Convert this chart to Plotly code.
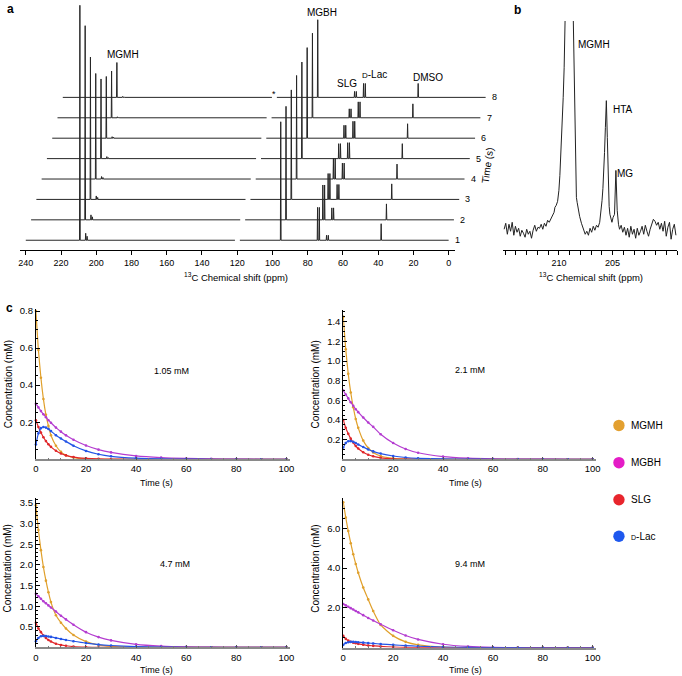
import plotly.graph_objects as go

W, H = 682, 676
def px(x):
    return x / W
def py(y):
    return 1 - y / H

FONT = "Liberation Sans, Arial, Helvetica, sans-serif"

# ---------------- Panel a : stacked 13C spectra (peak list per time point) ----------------
trace_ids = [1, 2, 3, 4, 5, 6, 7, 8]
peak_shift = [209.3, 206.0, 205.2, 95.3, 74.4, 73.4, 69.3, 68.3, 38.3]   # ppm (trace 1)
h_MGMH = [236, 195, 143, 106, 80, 62, 47, 35]
h_HTA = [7, 5, 3.5, 2.5, 2, 1.5, 1, 1]
h_MG = [4, 3, 2, 1.5, 1, 1, 0.5, 0.5]
h_MGBH = [119, 114, 110, 104, 97, 91, 85, 78]
h_SLG = [33, 35, 26, 21, 15, 13, 9, 6]
h_DLac = [5, 12, 15, 16, 16, 17, 16, 14]
h_DMSO = [16.6, 16, 15.6, 15, 15, 14.5, 14, 14]
spec_start, spec_end = 240.0, 0.0
gap_start, gap_end = 121.3, 118.5

# ---------------- Panel b : zoom of carbonyl region ----------------
b_points = [
    (215.1, 3), (214.95, 9), (214.8, -2), (214.65, 8), (214.5, 1), (214.35, 10), (214.2, -3),
    (214.05, 6), (213.9, 0), (213.75, 4), (213.6, -4), (213.45, 2), (213.3, -1), (213.15, -5),
    (213.0, 3), (212.85, -2), (212.7, 1), (212.55, -6), (212.4, 2), (212.25, 7), (212.1, 1),
    (211.95, 5), (211.8, 4), (211.65, 8), (211.5, 3), (211.35, 9), (211.2, 6), (211.05, 12),
    (210.9, 10), (210.75, 14), (210.6, 16), (210.45, 20), (210.37, 25), (210.25, 27), (210.12, 31),
    (210.0, 42), (209.91, 57), (209.8, 80), (209.69, 105), (209.6, 135), (209.51, 165),
    (209.42, 210), (209.3, 300), (209.05, 420), (208.8, 300), (208.65, 215), (208.56, 140),
    (208.45, 75), (208.37, 35), (208.3, 30), (208.2, 22), (208.07, 16), (207.9, 9), (207.7, 3),
    (207.55, -2), (207.4, 1), (207.25, -3), (207.1, 4), (206.95, 0), (206.8, 6), (206.65, 2),
    (206.5, 7), (206.35, 5), (206.2, 10), (206.13, 16), (205.98, 32), (205.9, 44), (205.83, 58),
    (205.75, 80), (205.67, 105), (205.58, 132), (205.49, 95), (205.4, 42), (205.32, 26),
    (205.25, 18), (205.15, 12), (205.06, 10), (204.95, 15), (204.82, 18), (204.69, 62),
    (204.57, 22), (204.45, 8), (204.35, 3), (204.2, 7), (204.05, 0), (203.9, 5), (203.75, -3),
    (203.6, 4), (203.45, -5), (203.3, 6), (203.15, -2), (203.0, 3), (202.85, -6), (202.7, 4),
    (202.55, -3), (202.4, 1), (202.25, 6), (202.1, -2), (201.95, 7), (201.8, 1), (201.65, -4),
    (201.5, 3), (201.35, 8), (201.2, 13), (201.05, 11), (200.9, 7), (200.75, 10), (200.6, 3),
    (200.45, 9), (200.3, 1), (200.15, 11), (200.0, -4), (199.85, 5), (199.7, 10), (199.55, -7),
    (199.4, 3), (199.25, 8), (199.1, -3),
]

# ---------------- Panel c : kinetics ----------------
t_s = [0, 1, 2, 3, 4, 5, 6, 8, 10, 12, 15, 20, 25, 30, 40, 50, 60, 70, 80, 90, 100]
c1_MGMH = [0.80, 0.59, 0.44, 0.325, 0.24, 0.18, 0.13, 0.073, 0.04, 0.022, 0.009, 0.002, 0, 0, 0, 0, 0, 0, 0, 0, 0]
c1_MGBH = [0.30, 0.28, 0.26, 0.243, 0.227, 0.211, 0.197, 0.171, 0.149, 0.129, 0.105, 0.074, 0.052, 0.037, 0.018, 0.009, 0.0045, 0.002, 0.001, 0, 0]
c1_SLG = [0.21, 0.174, 0.144, 0.119, 0.098, 0.081, 0.067, 0.046, 0.031, 0.021, 0.012, 0.005, 0.002, 0.001, 0, 0, 0, 0, 0, 0, 0]
c1_DLac = [0.08, 0.14, 0.168, 0.174, 0.171, 0.163, 0.152, 0.13, 0.112, 0.096, 0.073, 0.045, 0.027, 0.016, 0.006, 0.002, 0.001, 0, 0, 0, 0]

c2_MGMH = [1.45, 1.12, 0.87, 0.68, 0.53, 0.41, 0.32, 0.19, 0.115, 0.07, 0.033, 0.009, 0.003, 0.001, 0, 0, 0, 0, 0, 0, 0]
c2_MGBH = [0.70, 0.66, 0.62, 0.58, 0.545, 0.51, 0.48, 0.425, 0.375, 0.33, 0.255, 0.165, 0.105, 0.066, 0.027, 0.011, 0.004, 0.002, 0.001, 0, 0]
c2_SLG = [0.40, 0.32, 0.26, 0.21, 0.17, 0.135, 0.11, 0.071, 0.046, 0.03, 0.015, 0.005, 0.002, 0.001, 0, 0, 0, 0, 0, 0, 0]
c2_DLac = [0.12, 0.165, 0.183, 0.185, 0.178, 0.165, 0.15, 0.125, 0.1, 0.08, 0.058, 0.033, 0.018, 0.01, 0.003, 0.001, 0, 0, 0, 0, 0]

c3_MGMH = [3.45, 2.85, 2.36, 1.95, 1.62, 1.34, 1.1, 0.78, 0.6, 0.46, 0.3, 0.14, 0.06, 0.025, 0.005, 0.001, 0, 0, 0, 0, 0]
c3_MGBH = [1.30, 1.24, 1.18, 1.12, 1.07, 1.02, 0.97, 0.87, 0.77, 0.68, 0.55, 0.37, 0.25, 0.17, 0.075, 0.032, 0.013, 0.005, 0.002, 0.001, 0]
c3_SLG = [0.6, 0.46, 0.37, 0.29, 0.23, 0.18, 0.145, 0.09, 0.06, 0.04, 0.02, 0.007, 0.003, 0.001, 0, 0, 0, 0, 0, 0, 0]
c3_DLac = [0.15, 0.23, 0.27, 0.28, 0.275, 0.265, 0.255, 0.23, 0.205, 0.18, 0.15, 0.105, 0.07, 0.047, 0.02, 0.008, 0.003, 0.001, 0, 0, 0]

c4_MGMH = [7.3, 6.54, 5.86, 5.25, 4.7, 4.21, 3.77, 3.03, 2.43, 1.85, 1.15, 0.6, 0.3, 0.15, 0.04, 0.012, 0.004, 0.001, 0, 0, 0]
c4_MGBH = [2.2, 2.13, 2.06, 1.99, 1.92, 1.85, 1.78, 1.64, 1.5, 1.37, 1.18, 0.88, 0.62, 0.42, 0.18, 0.07, 0.025, 0.01, 0.003, 0.001, 0]
c4_SLG = [0.6, 0.45, 0.36, 0.3, 0.26, 0.23, 0.2, 0.16, 0.12, 0.1, 0.07, 0.04, 0.02, 0.01, 0.003, 0.001, 0, 0, 0, 0, 0]
c4_DLac = [0.15, 0.24, 0.28, 0.3, 0.3, 0.29, 0.28, 0.26, 0.24, 0.22, 0.19, 0.15, 0.11, 0.08, 0.04, 0.02, 0.01, 0.005, 0.002, 0.001, 0]

conc_labels = ["1.05 mM", "2.1 mM", "4.7 mM", "9.4 mM"]
species = ["MGMH", "MGBH", "SLG", "<span style='font-size:7px'>D</span>-Lac"]

LINE_COL = ["#E0A02C", "#B43CD0", "#E0262A", "#2454E6"]
LEG_COL = ["#E3A030", "#E41CC6", "#E8252D", "#1E58EE"]

fig = go.Figure()

# ---- panel a traces
step_x, step_y, hw = 3.0, 20.5, 0.2
for i, k in enumerate(trace_ids):
    heights = [h_MGMH[i], h_HTA[i], h_MG[i], h_MGBH[i], h_SLG[i], h_SLG[i],
               h_DLac[i], h_DLac[i], h_DMSO[i]]
    pk = sorted(zip(peak_shift, heights), key=lambda p: -p[0])
    xs, ys = [spec_start], [0.0]
    gap_done = False
    for p, h in pk:
        if not gap_done and p < gap_end:
            xs += [gap_start, None, gap_end]
            ys += [0.0, None, 0.0]
            gap_done = True
        xs += [p + hw, p, p - hw]
        ys += [0.0, h, 0.0]
    xs.append(spec_end)
    ys.append(0.0)
    off_x = (k - 1) * step_x
    off_y = (k - 1) * step_y
    fig.add_trace(go.Scatter(
        x=[None if v is None else v - off_x for v in xs],
        y=[None if v is None else v + off_y for v in ys],
        mode="lines", line=dict(color="#262626", width=1),
        xaxis="x2", yaxis="y", showlegend=False, hoverinfo="skip"))

# empty trace so that the visible ppm axis of panel a is drawn
fig.add_trace(go.Scatter(x=[None], y=[None], mode="lines", xaxis="x", yaxis="y",
                         showlegend=False, hoverinfo="skip"))

# ---- panel b trace
fig.add_trace(go.Scatter(
    x=[p[0] for p in b_points], y=[p[1] for p in b_points],
    mode="lines", line=dict(color="#222222", width=1),
    xaxis="x3", yaxis="y3", showlegend=False, hoverinfo="skip"))

# ---- panel c traces
panels = [
    (c1_MGMH, c1_MGBH, c1_SLG, c1_DLac),
    (c2_MGMH, c2_MGBH, c2_SLG, c2_DLac),
    (c3_MGMH, c3_MGBH, c3_SLG, c3_DLac),
    (c4_MGMH, c4_MGBH, c4_SLG, c4_DLac),
]
for pi, series in enumerate(panels):
    xa, ya = "x%d" % (pi + 4), "y%d" % (pi + 4)
    for si, vals in enumerate(series):
        fig.add_trace(go.Scatter(
            x=t_s, y=vals, mode="lines+markers",
            line=dict(color=LINE_COL[si], width=1.2, shape="spline", smoothing=0.6),
            marker=dict(color=LINE_COL[si], size=2.6),
            xaxis=xa, yaxis=ya, showlegend=False, hoverinfo="skip", cliponaxis=False))

# ---------------- axes ----------------
tickfont = dict(family=FONT, size=9, color="black")
ctickfont = dict(family=FONT, size=9.5, color="black")
layout = dict(
    width=W, height=H, margin=dict(l=0, r=0, t=0, b=0),
    paper_bgcolor="white", plot_bgcolor="rgba(0,0,0,0)",
    font=dict(family=FONT, size=9, color="black"),
    showlegend=False,
)
# panel a: visible tick axis + hidden wide axis for the stacked traces
layout["xaxis"] = dict(domain=[px(17), px(457)], range=[243.4, -3.4], anchor="y",
                       showline=True, linecolor="black", linewidth=1, ticks="outside",
                       ticklen=4, tickcolor="black", tickvals=list(range(0, 241, 20)),
                       showgrid=False, zeroline=False, tickfont=tickfont)
layout["xaxis2"] = dict(domain=[px(17), px(492)], range=[243.4, 243.4 - 475 / 1.7828],
                        anchor="y", visible=False)
layout["yaxis"] = dict(domain=[py(248), py(0)], range=[-9.7, 238.3], anchor="x",
                       visible=False)
# panel b
layout["xaxis3"] = dict(domain=[px(506), px(682)], range=[215.2, 199.0], anchor="y3",
                        showline=True, linecolor="black", linewidth=1, ticks="outside",
                        ticklen=4, tickcolor="black", tickvals=[210, 205],
                        minor=dict(dtick=1, ticks="outside", ticklen=4, tickcolor="black"),
                        showgrid=False, zeroline=False, tickfont=tickfont)
layout["yaxis3"] = dict(domain=[py(248.3), py(18)], range=[-18, 212], anchor="x3",
                        visible=False)

c_specs = [
    # x0, x1, ytop, ybottom, ymax, tickvals, minor dtick
    (33.3, 290, 307, 458.3, 0.813, [0.2, 0.4, 0.6, 0.8], 0.05),
    (344.3, 600, 308, 458.3, 1.524, [0.2, 0.4, 0.6, 0.8, 1.0, 1.2, 1.4], 0.05),
    (33.3, 290, 497, 647.3, 3.63, [0.5, 1.0, 1.5, 2.0, 2.5, 3.0, 3.5], 0.1),
    (344.3, 600, 497, 647.7, 7.53, [2.0, 4.0, 6.0], 0.5),
]
for pi, (x0, x1, yt, yb, ymax, tv, mdt) in enumerate(c_specs):
    n = pi + 4
    layout["xaxis%d" % n] = dict(domain=[px(x0), px(x1)], range=[0, 101.3], anchor="y%d" % n,
                                 showline=True, linecolor="#8a8a8a", linewidth=1.5,
                                 ticks="inside", ticklen=3, tickcolor="#555",
                                 tickvals=[0, 20, 40, 60, 80, 100],
                                 minor=dict(dtick=5, ticks="inside", ticklen=2, tickcolor="#777"),
                                 showgrid=False, zeroline=False, tickfont=ctickfont)
    layout["yaxis%d" % n] = dict(domain=[py(yb), py(yt)], range=[0, ymax], anchor="x%d" % n,
                                 showline=True, linecolor="black", linewidth=1,
                                 ticks="inside", ticklen=4, tickcolor="black",
                                 tickvals=tv, tickformat=".1f",
                                 minor=dict(dtick=mdt, ticks="inside", ticklen=2, tickcolor="black"),
                                 showgrid=False, zeroline=False, tickfont=ctickfont)
fig.update_layout(**layout)

# ---------------- annotations ----------------
ann = []
def text(x, y, s, size=9, **kw):
    d = dict(x=px(x), y=py(y), xref="paper", yref="paper", text=s, showarrow=False,
             font=dict(family=FONT, size=size, color="black"), xanchor="center", yanchor="middle")
    d.update(kw)
    ann.append(d)

text(2, 6, "<b>a</b>", size=12, xanchor="left")
text(515, 7, "<b>b</b>", size=12, xanchor="left")
text(1, 306, "<b>c</b>", size=12, xanchor="left")

text(121.7, 51.7, "MGMH", size=10)
text(322.7, 10, "MGBH", size=10)
text(347.7, 80.7, "SLG", size=10)
text(375.7, 72.3, "<span style='font-size:8px'>D</span>-Lac", size=10)
text(430, 75, "DMSO", size=10)
text(274.3, 91, "*", size=9)
for i, k in enumerate(trace_ids):
    text(459.5 + 5.4 * i, 238.3 - 20.5 * i, str(k), size=9)
text(490, 163, "Time (s)", size=10, textangle=-82)
text(236, 275, "<sup>13</sup>C Chemical shift (ppm)", size=9.5)

text(598, 42, "MGMH", size=10)
text(627, 107, "HTA", size=10)
text(629, 171, "MG", size=10)
text(595, 275, "<sup>13</sup>C Chemical shift (ppm)", size=9.5)

conc_pos = [(170, 370), (472.7, 369), (174.3, 564), (472.7, 564)]
for (x, y), s in zip(conc_pos, conc_labels):
    text(x, y, s, size=9)
for (x, y) in [(155, 482), (468, 482), (155, 670), (468, 670)]:
    text(x, y, "Time (s)", size=9)
for (x, y) in [(5, 383), (316, 383), (5, 568), (316, 568)]:
    text(x, y, "Concentration (mM)", size=10, textangle=-90)

# legend
leg_y = [424.3, 461.7, 499, 535.7]
shapes = []
for yy, col, name in zip(leg_y, LEG_COL, species):
    shapes.append(dict(type="circle", xref="paper", yref="paper",
                       x0=px(617.5), x1=px(629), y0=py(yy + 5.75), y1=py(yy - 5.75),
                       fillcolor=col, line=dict(width=0)))
    text(633, yy, name, size=10, xanchor="left")

fig.update_layout(annotations=ann, shapes=shapes)
fig.write_html("out.html", config={"displayModeBar": False},
               post_script="document.body.style.margin='0';document.body.style.padding='0';")
